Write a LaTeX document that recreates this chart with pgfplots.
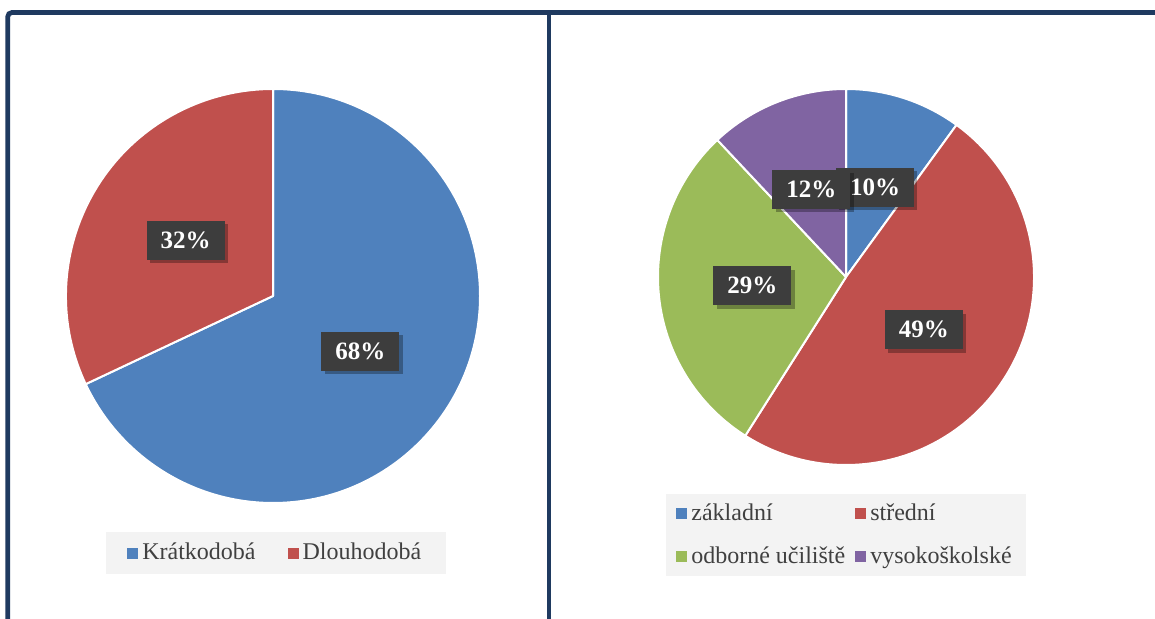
\documentclass[border=0pt]{standalone}
\usepackage{fontspec}
\setmainfont{Liberation Serif}
\usepackage{pgfplots}
\pgfplotsset{compat=1.18}
\usepackage{pgfplotstable}
\usetikzlibrary{shadows}
\definecolor{cblue}{HTML}{4F81BD}
\definecolor{cred}{HTML}{C0504D}
\definecolor{cgreen}{HTML}{9BBB59}
\definecolor{cpurple}{HTML}{8064A2}
\definecolor{framec}{HTML}{1F3A60}
\definecolor{lblbg}{HTML}{3D3D3D}
\definecolor{legbg}{HTML}{F3F3F3}
\definecolor{legtext}{HTML}{404040}

% v = share in %, cum = sum of the preceding shares, c = colour index
\pgfplotstableread{
v cum c
68 0 0
32 68 1
}\leftdata
\pgfplotstableread{
v cum c
10 0 0
49 10 1
29 59 2
12 88 3
}\rightdata

\pgfplotsset{
  pieaxis/.style={hide axis, xmin=-1, xmax=1, ymin=-1, ymax=1, clip=false, anchor=center,
    legend cell align=left,
    /pgf/number format/assume math mode=true,
    legend style={draw=none, fill=legbg, text=legtext, font=\fontsize{12}{14}\selectfont},
    legend image code/.code={\fill[##1] (0pt,-2.75pt) rectangle (5.5pt,2.75pt);},
  },
  wedges/.style={forget plot, only marks, scatter, point meta=\thisrow{v},
    mark=*, mark size=0pt, mark options={draw=none, fill=none},
    visualization depends on={\thisrow{v} \as \val},
    visualization depends on={\thisrow{cum} \as \cum},
    visualization depends on={\thisrow{c} \as \cidx},
    scatter/@pre marker code/.code={%
      \pgfmathsetmacro\angA{90-3.6*\cum}%
      \pgfmathsetmacro\angB{90-3.6*(\cum+\val)}%
      \pgfmathtruncatemacro\ci{\cidx}%
      \edef\col{\ifcase\ci cblue\or cred\or cgreen\else cpurple\fi}%
      \fill[fill=\col, draw=white, line width=1pt, line join=round]
        (0pt,0pt) -- (\angA:#1) arc[start angle=\angA, end angle=\angB, radius=#1] -- cycle;
      \begin{scope}[draw=none, fill=none]
    },
    scatter/@post marker code/.code={\end{scope}},
  },
  pielabels/.style={forget plot, draw=none, mark=none, point meta=\thisrow{v},
    nodes near coords={\pgfmathprintnumber{\pgfplotspointmeta}\%},
    nodes near coords style={anchor=center, fill=lblbg, text=white,
      font=\bfseries\fontsize{12.5}{14}\selectfont, inner xsep=7pt, inner ysep=3pt,
      minimum height=19.5pt,
      drop shadow={shadow xshift=1.6pt, shadow yshift=-1.6pt, opacity=0.3, fill=black}},
  },
}

\begin{document}
\begin{tikzpicture}
\path[use as bounding box] (0,0) rectangle (577.5pt,309.5pt);
\fill[white] (0,0) rectangle (577.5pt,309.5pt);

% left pie
\begin{axis}[pieaxis, x=103.5pt, y=103.5pt, at={(136.5pt,161.5pt)},
  legend columns=2,
  legend style={at={(0.508,-0.1208)}, anchor=center, inner xsep=10.5pt, inner ysep=3.5pt,
    /tikz/column 2/.append style={column sep=14pt}}]
\addplot[wedges=103.5pt] table[x expr=0, y expr=0] {\leftdata};
\addplot[pielabels] table[
  x expr={0.5*cos(90-3.6*(\thisrow{cum}+0.5*\thisrow{v}))},
  y expr={0.5*sin(90-3.6*(\thisrow{cum}+0.5*\thisrow{v}))}] {\leftdata};
\addlegendimage{fill=cblue, draw=none}
\addlegendentry{Krátkodobá}
\addlegendimage{fill=cred, draw=none}
\addlegendentry{Dlouhodobá}
\end{axis}

% right pie
\begin{axis}[pieaxis, x=94pt, y=94pt, at={(423pt,171pt)},
  legend columns=2,
  legend style={at={(0.5,-0.186)}, anchor=center, inner xsep=5pt, inner ysep=3pt,
    row sep=7.5pt, /tikz/column 2/.append style={column sep=3pt}}]
\addplot[wedges=94pt] table[x expr=0, y expr=0] {\rightdata};
\addplot[pielabels] table[
  x expr={0.5*cos(90-3.6*(\thisrow{cum}+0.5*\thisrow{v}))},
  y expr={0.5*sin(90-3.6*(\thisrow{cum}+0.5*\thisrow{v}))}] {\rightdata};
\addlegendimage{fill=cblue, draw=none}
\addlegendentry{základní}
\addlegendimage{fill=cred, draw=none}
\addlegendentry{střední}
\addlegendimage{fill=cgreen, draw=none}
\addlegendentry{odborné učiliště}
\addlegendimage{fill=cpurple, draw=none}
\addlegendentry{vysokoškolské}
\end{axis}

% panel frames
\draw[framec, line width=2.4pt, rounded corners=2pt] (3.9pt,-2pt) -- (3.9pt,303.2pt) -- (60pt,303.2pt);
\draw[framec, line width=2.4pt] (50pt,303.2pt) -- (600pt,303.2pt);
\draw[framec, line width=2.2pt] (274.6pt,-2pt) -- (274.6pt,303.2pt);
\end{tikzpicture}
\end{document}
